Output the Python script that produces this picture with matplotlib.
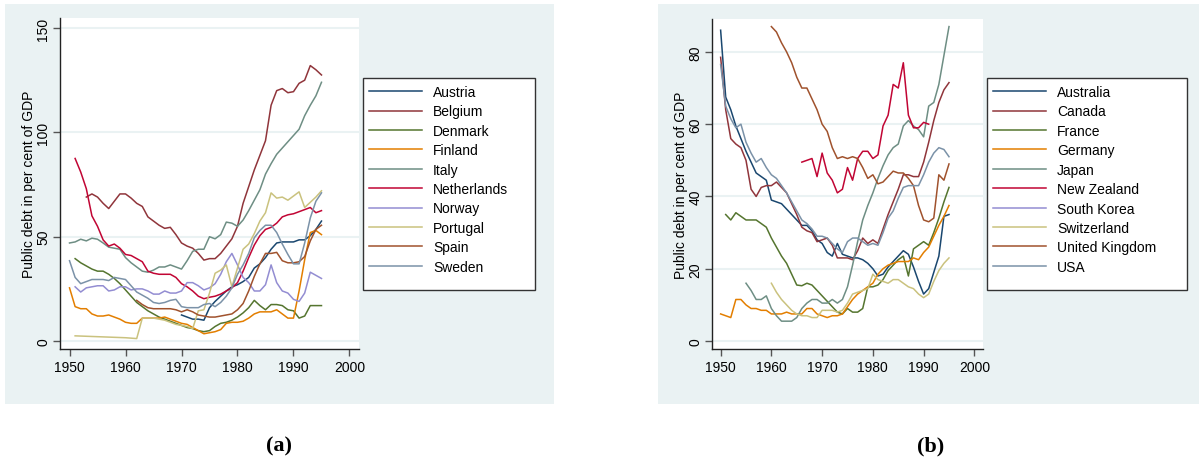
import matplotlib
matplotlib.use('Agg')
import matplotlib.pyplot as plt
import numpy as np
from matplotlib.patches import Rectangle

plt.rcParams['font.family'] = ['Liberation Sans', 'DejaVu Sans']

# ---- Panel (a) data: (first year, values) ----
austria_start = 1970
austria = [12.5, 11.5, 10.5, 10.5, 10, 16, 19, 21.5, 24, 26,
           27, 28.5, 30.5, 35, 37, 40, 44, 47, 47.5, 47.5,
           47.5, 48.5, 48.5, 50.5, 53.5, 57.5]
belgium_start = 1953
belgium = [69, 70.5, 69, 66, 63.5, 67, 70.5,
           70.5, 68.5, 66, 64.5, 59.5, 57.5, 55.5, 54, 54.5, 51,
           47, 45.5, 44.5, 42, 38.8, 39.5, 39.5, 42, 45.5, 49,
           55, 66, 74, 82, 89, 96, 113, 120, 121, 119,
           119.5, 123.5, 125, 132, 130, 127.5]
denmark_start = 1951
denmark = [39.5, 37.5, 36, 34.5, 33.5, 33.5, 32, 30, 27.5,
           24.5, 21.5, 18.5, 16.5, 14.5, 13, 11.5, 10.5, 9.5, 8.5,
           7.5, 6.5, 6, 5, 4.5, 5, 7, 8.5, 9, 10,
           11.5, 13.5, 16, 19.5, 17, 15, 17.5, 17.5, 17, 15,
           14.5, 11, 12, 17, 17, 17]
finland_start = 1950
finland = [25.5, 16.5, 15.5, 15.5, 13, 12, 12, 12.5, 11.5, 10.5,
           9, 8.5, 8.5, 11, 11, 11, 11, 11.5, 10.5, 9.5,
           8.5, 8, 6.5, 5, 3.5, 4, 4.5, 5.5, 8.5, 9,
           9, 9.5, 11, 13, 14, 14, 14, 15, 13, 11,
           11, 24, 39, 52, 53, 51]
italy_start = 1950
italy = [47, 47.5, 48.8, 48, 49.3, 48.8, 47, 45, 44.5, 44,
         40, 37.5, 35.5, 33.5, 33, 34, 35.5, 35.5, 36.5, 35.5,
         34.5, 38.5, 43, 44, 44, 50, 49, 51, 57, 56.5,
         55, 58, 62.5, 67.5, 72.5, 80, 85, 89.5, 92.5, 95.5,
         98.5, 101.5, 108, 113, 117.5, 124]
netherlands_start = 1951
netherlands = [87.5, 81, 73, 60, 55, 48.5, 45.5, 46.5, 44.5,
               41.5, 41, 39.5, 38, 33.5, 32.5, 32, 32, 32, 30.5,
               27.5, 26, 24, 21.5, 20.3, 21, 21.5, 22.5, 24, 25.5,
               28, 33.5, 40, 46, 50.5, 53.5, 54.5, 56.5, 59.5, 60.5,
               61, 62, 63, 64, 61.5, 62.5]
norway_start = 1951
norway = [26, 23.5, 25.5, 26, 26.5, 26.5, 24, 24.5, 26,
          26, 24.5, 25, 25, 24, 22.5, 22.5, 24, 23, 23,
          24, 28, 28, 26.5, 24.5, 25.5, 27.5, 32, 38, 42,
          36.5, 30.5, 28, 24, 24, 27, 36.5, 28, 24, 23,
          20, 19, 23, 33, 31.5, 30]
portugal_start = 1951
portugal = [2.5, 2.4, 2.3, 2.2, 2.1, 2, 1.9, 1.8, 1.7,
            1.6, 1.4, 1.2, 11, 11, 11, 10.5, 10, 9, 8,
            7.5, 7, 6, 14.5, 15, 23, 32.5, 34, 36.5, 26,
            35, 44, 46.5, 51.5, 57.5, 61.5, 71, 68.5, 69, 67.5,
            69.5, 71.5, 64, 66.5, 69, 72]
spain_start = 1962
spain = [19.5, 17.5, 16, 15.5, 15.5, 15.5, 15.5, 15,
         14, 15, 14, 12.5, 12, 11.5, 11.5, 12, 12.5, 13,
         15, 18, 24, 31, 37, 42, 42, 42.5, 38.5, 37.5,
         37.5, 38, 40.5, 48, 53.5, 55.5]
sweden_start = 1950
sweden = [38.5, 30.5, 27.5, 28.5, 29.5, 29.5, 29.5, 29, 30.5, 30,
          29.5, 26.5, 23.5, 22, 20.5, 18.5, 18, 18.5, 19.5, 20,
          16.5, 16, 16, 16, 17.5, 18, 16.5, 18.5, 21.5, 25.5,
          32, 36.5, 42, 49.5, 53, 55.5, 55.5, 52, 46.5, 41.5,
          37, 37, 47, 59, 67, 71]

# ---- Panel (b) data ----
australia_start = 1950
australia = [86, 67.5, 64, 59.5, 56, 52.5, 49.5, 46.5, 45.5, 44.5,
             39, 38.5, 38, 36.5, 35, 33.5, 32, 32, 30.5, 28,
             27, 24.5, 23.5, 27, 24, 23.5, 23, 23, 22.5, 21.5,
             20, 18, 18.5, 20.5, 22, 23.5, 25, 24, 20.5, 16.5,
             13, 14.5, 19, 23.5, 34.5, 35]
canada_start = 1950
canada = [78.5, 64, 56, 54.5, 53.5, 50, 42, 40, 42.5, 43,
          43, 44, 42.5, 41, 38, 35, 31.5, 30.5, 30, 27.5,
          28, 28.5, 26.5, 23, 23, 23, 22.5, 25, 28.5, 27,
          28, 27, 31, 35, 38.5, 42, 46, 46, 45.5, 45.5,
          49.5, 55, 61, 66, 69.5, 71.5]
france_start = 1951
france = [35, 33.5, 35.5, 34.5, 33.5, 33.5, 33.5, 32.5, 31.5,
          28.5, 26, 23.5, 21.5, 18.5, 15.5, 15.3, 16, 15.5, 14,
          12.5, 11, 9.5, 8, 7.5, 9, 8, 8, 9, 15,
          15, 15.5, 17, 19.5, 21, 22.5, 23.5, 18, 25.5, 26.5,
          27.5, 26.5, 30, 34, 38.5, 42.5]
germany_start = 1950
germany = [7.5, 7, 6.5, 11.5, 11.5, 10, 9, 9, 8.5, 8.5,
           7.5, 7.5, 7.5, 8, 7.5, 7.5, 7.5, 9, 9, 7.5,
           7, 6.5, 7, 7, 7.5, 9.5, 11.5, 13, 14, 15,
           16, 18.5, 20, 21, 21.5, 22, 22, 22, 23, 22.5,
           24.5, 26, 29, 32, 34.5, 37.5]
japan_start = 1955
japan = [16, 14, 11.5, 11.5, 12.5,
         9, 7, 5.5, 5.5, 5.5, 6.5, 9, 10.5, 11.5, 11.5,
         10.5, 10.5, 11.5, 10.5, 11.5, 15, 21, 27.5, 33.5, 37.5,
         41, 45, 48.5, 51.5, 53.5, 54.5, 59.5, 61, 59.5, 58.5,
         56.5, 65, 66, 71, 79, 87]
new_zealand_start = 1966
new_zealand = [49.5, 50, 50.5, 45.5,
               52, 46.5, 44.5, 41, 42, 48, 44.5, 50.5, 52.5, 52.5,
               50.5, 51.5, 59.5, 62.5, 71, 70, 77, 62.5, 59, 59,
               60.5, 60]
south_korea_start = 1950
south_korea = []
switzerland_start = 1960
switzerland = [16, 13.5, 11.5, 10, 8.5, 7.5, 7, 7, 6.5, 6.5,
               8.5, 8.5, 8.5, 8, 8.5, 10.5, 13, 13.5, 14, 14.5,
               18.5, 17, 16.5, 16, 17, 17, 16, 15, 14.5, 13,
               12, 13, 16.5, 19.5, 21.5, 23]
uk_start = 1960
uk = [87, 85.5, 82.5, 80, 77, 73, 70, 70, 67, 64,
      60, 58, 53.5, 50.5, 51, 50.5, 51, 50.5, 48, 45,
      46, 43.5, 44, 45.5, 47, 46.5, 46.5, 45, 43, 37.5,
      33.5, 33, 34, 46, 44.5, 49]
usa_start = 1950
usa = [76.5, 65, 61.5, 59, 60, 55, 52, 49.5, 50.5, 48,
       46, 45, 43, 41, 38.5, 36, 33.5, 32.5, 31, 29,
       29, 28.5, 27, 25.5, 24.5, 27.5, 28.5, 28.5, 27.5, 26.5,
       27, 26.5, 30, 34, 36, 39.5, 42.5, 43, 43, 43,
       46, 49.5, 52, 53.5, 53, 51]

labels_a = ['Austria', 'Belgium', 'Denmark', 'Finland', 'Italy',
            'Netherlands', 'Norway', 'Portugal', 'Spain', 'Sweden']
series_a = [(austria_start, austria), (belgium_start, belgium),
            (denmark_start, denmark), (finland_start, finland),
            (italy_start, italy), (netherlands_start, netherlands),
            (norway_start, norway), (portugal_start, portugal),
            (spain_start, spain), (sweden_start, sweden)]
labels_b = ['Australia', 'Canada', 'France', 'Germany', 'Japan',
            'New Zealand', 'South Korea', 'Switzerland', 'United Kingdom', 'USA']
series_b = [(australia_start, australia), (canada_start, canada),
            (france_start, france), (germany_start, germany),
            (japan_start, japan), (new_zealand_start, new_zealand),
            (south_korea_start, south_korea), (switzerland_start, switzerland),
            (uk_start, uk), (usa_start, usa)]

# Stata s2color palette
colors = ['#1a476f', '#90353b', '#55752f', '#e37e00', '#6e8e84',
          '#c10534', '#938dd2', '#cac27e', '#a0522d', '#7b92a8']
bg = '#eaf2f3'

W, H = 1202, 460
fig = plt.figure(figsize=(W / 100, H / 100), dpi=100)
fig.patch.set_facecolor('white')


def px_rect(x0, y0, x1, y1):
    # pixel box (top-left origin) -> figure fraction [l, b, w, h]
    return [x0 / W, 1 - y1 / H, (x1 - x0) / W, (y1 - y0) / H]


def panel(bg_box, ax_box, series, labels, ylim, yticks, leg_box, leg_anchor, tag, tag_x):
    l, b, w, h = px_rect(*bg_box)
    fig.patches.append(Rectangle((l, b), w, h, transform=fig.transFigure,
                                 facecolor=bg, edgecolor='none', zorder=0))
    ax = fig.add_axes(px_rect(*ax_box))
    ax.set_facecolor('white')
    ax.set_zorder(1)
    handles = []
    for (start, vals), c, lab in zip(series, colors, labels):
        yrs = np.arange(start, start + len(vals))
        ln, = ax.plot(yrs, vals, color=c, lw=1.1, label=lab)
        handles.append(ln)
    ax.set_xlim(1948.3, 2001.7)
    ax.set_ylim(*ylim)
    ax.set_xticks([1950, 1960, 1970, 1980, 1990, 2000])
    ax.set_yticks(yticks)
    ax.grid(axis='y', color=bg, lw=1.5)
    ax.set_axisbelow(True)
    for s in ['top', 'right']:
        ax.spines[s].set_visible(False)
    for s in ['left', 'bottom']:
        ax.spines[s].set_color('#222222')
        ax.spines[s].set_linewidth(1.0)
    ax.tick_params(direction='out', length=5, width=1, color='#555555',
                   labelsize=10, pad=3)
    ax.tick_params(axis='y', pad=2)
    for t in ax.get_yticklabels():
        t.set_rotation(90)
        t.set_va('center')
    ax.set_ylabel('Public debt in per cent of GDP', fontsize=10, labelpad=0)

    # legend frame and entries
    l, b, w, h = px_rect(*leg_box)
    fig.patches.append(Rectangle((l, b), w, h, transform=fig.transFigure,
                                 facecolor='white', edgecolor='#333333', lw=1.0, zorder=1))
    leg = fig.legend(handles, labels, loc='upper left',
                     bbox_to_anchor=(leg_anchor[0] / W, 1 - leg_anchor[1] / H),
                     frameon=False, fontsize=10, handlelength=3.8,
                     handletextpad=0.8, labelspacing=0.39,
                     borderpad=0, borderaxespad=0)
    leg.set_zorder(2)
    fig.text(tag_x / W, 1 - 446 / H, tag, family=['Liberation Serif', 'DejaVu Serif'],
             fontweight='bold', fontsize=16, ha='center', va='center')
    return ax


panel((5, 5, 554, 405), (60, 19, 359, 350), series_a, labels_a,
      (-3.8, 154.8), [0, 50, 100, 150], (363, 79, 535, 291), (369, 86), '(a)', 279)
panel((658, 5, 1199, 405), (712, 20, 983, 350), series_b, labels_b,
      (-2.2, 89.1), [0, 20, 40, 60, 80], (987, 79, 1187, 291), (993, 86), '(b)', 931)

fig.savefig('out.png', dpi=100, facecolor='white')
